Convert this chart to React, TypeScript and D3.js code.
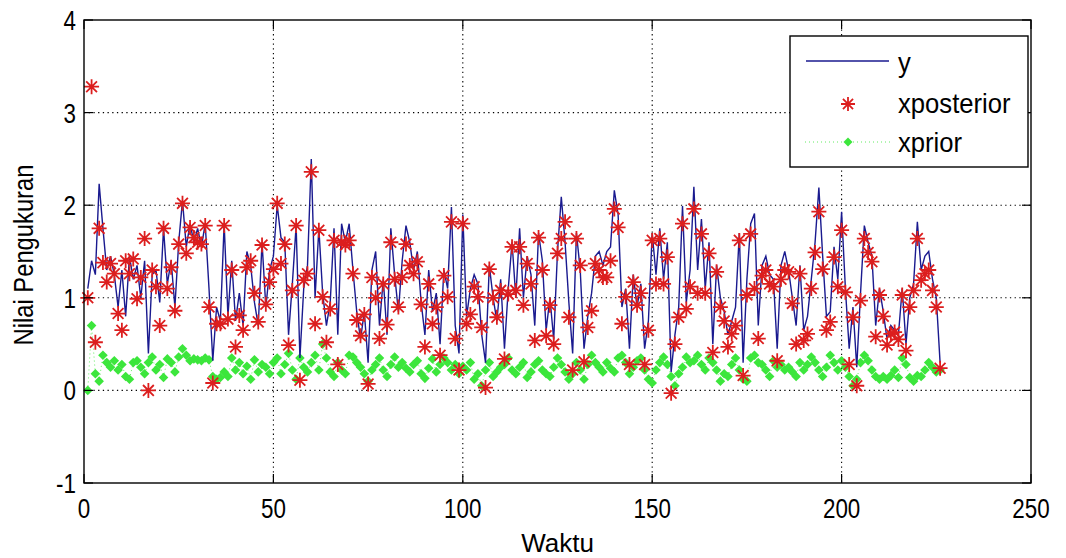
import React, { useEffect, useRef } from "react";
import * as d3 from "d3";

// Axis ticks
const xTicks = [0, 50, 100, 150, 200, 250];
const yTicks = [-1, 0, 1, 2, 3, 4];

// Measurement y (t = 1..226)
const yMeas = [
  1.1, 1.4, 1.25, 2.23, 1.75, 1.3, 1.45, 1.25, 0.9, 1.3,
  0.8, 1.45, 1.2, 1.35, 1.0, 1.4, 0.4, 1.25, 1.3, 0.95,
  1.75, 1.15, 1.4, 0.9, 1.6, 2.05, 1.55, 1.8, 1.6, 1.75,
  1.55, 1.8, 1.1, 0.32, 0.9, 0.75, 1.8, 0.8, 1.4, 0.75,
  1.05, 0.7, 1.5, 1.35, 0.95, 0.7, 1.6, 0.9, 1.3, 1.45,
  2.0, 1.65, 1.6, 0.6, 1.15, 1.78, 0.35, 1.1, 1.35, 2.5,
  1.0, 1.75, 1.05, 0.7, 0.95, 1.75, 0.6, 1.8, 1.6, 1.8,
  1.3, 0.85, 0.55, 0.85, 0.3, 1.3, 1.5, 0.7, 1.2, 0.6,
  1.75, 1.25, 0.85, 1.4, 1.78, 1.6, 1.3, 1.5, 0.95, 0.6,
  1.3, 0.85, 1.05, 0.5, 1.3, 1.1, 1.98, 0.7, 0.4, 1.9,
  0.8, 1.1, 1.25, 1.15, 0.6, 0.3, 1.35, 1.0, 0.75, 1.2,
  0.45, 1.1, 1.6, 1.0, 1.75, 1.0, 1.45, 1.25, 0.7, 1.7,
  1.4, 0.65, 1.0, 0.55, 1.5, 2.09, 1.6, 0.95, 0.4, 1.7,
  1.3, 0.45, 0.8, 1.05, 1.45, 1.5, 1.35, 1.5, 1.55, 2.16,
  1.9, 0.9, 1.1, 0.45, 1.25, 0.9, 1.15, 0.45, 0.75, 1.7,
  1.25, 1.75, 1.2, 1.6, 0.2, 0.6, 0.9, 1.99, 0.95, 1.3,
  2.2, 1.3, 1.85, 1.1, 1.6, 0.5, 1.35, 1.0, 0.85, 0.6,
  0.75, 0.9, 1.7, 0.3, 1.2, 1.8, 1.91, 0.7, 1.35, 1.45,
  1.25, 1.2, 0.45, 1.35, 1.5, 1.3, 1.0, 0.7, 1.35, 0.65,
  0.8, 1.2, 1.6, 2.19, 1.45, 0.8, 0.85, 1.55, 1.2, 1.93,
  1.1, 0.45, 0.9, 0.25, 1.05, 1.78, 1.6, 1.45, 0.7, 1.1,
  0.85, 0.55, 0.7, 0.65, 0.6, 1.1, 0.5, 1.0, 1.15, 1.82,
  1.3, 1.45, 1.5, 1.2, 1.0, 0.3,
];

// Posterior estimate (t = 1..226)
const xPosterior = [
  1.0, 3.28, 0.52, 1.75, 1.38, 1.17, 1.37, 1.26, 0.83, 0.65,
  1.4, 1.26, 1.42, 0.99, 1.22, 1.64, 0.0, 1.3, 1.12, 0.7,
  1.75, 1.1, 1.33, 0.86, 1.58, 2.02, 1.48, 1.76, 1.65, 1.6,
  1.58, 1.78, 0.9, 0.08, 0.72, 0.72, 1.78, 0.77, 1.3, 0.47,
  0.81, 0.65, 1.33, 1.4, 1.05, 0.74, 1.57, 0.93, 1.17, 1.31,
  2.02, 1.37, 1.58, 0.49, 1.08, 1.78, 0.11, 1.19, 1.26, 2.36,
  0.72, 1.73, 1.01, 0.52, 0.88, 1.62, 0.28, 1.6, 1.57, 1.62,
  1.26, 0.76, 0.59, 0.82, 0.07, 1.22, 1.0, 0.56, 1.15, 0.71,
  1.6, 1.2, 0.9, 1.22, 1.58, 1.35, 1.26, 1.39, 0.93, 0.47,
  1.15, 0.72, 0.9, 0.38, 1.24, 1.01, 1.82, 0.56, 0.22, 1.8,
  0.72, 0.82, 1.12, 1.01, 0.68, 0.03, 1.31, 1.0, 0.79, 1.08,
  0.34, 1.04, 1.55, 1.08, 1.55, 0.92, 1.37, 1.15, 0.54, 1.65,
  1.3, 0.59, 0.92, 0.5, 1.48, 1.64, 1.82, 0.79, 0.22, 1.64,
  1.35, 0.31, 0.68, 0.86, 1.37, 1.3, 1.22, 1.22, 1.4, 1.96,
  1.76, 0.72, 1.01, 0.28, 1.17, 0.92, 1.05, 0.28, 0.65, 1.62,
  1.15, 1.64, 1.15, 1.44, -0.03, 0.5, 0.79, 1.8, 0.88, 1.12,
  1.96, 1.05, 1.69, 1.05, 1.48, 0.41, 1.28, 0.9, 0.75, 0.47,
  0.61, 0.7, 1.62, 0.16, 1.03, 1.69, 1.1, 0.56, 1.24, 1.3,
  1.15, 1.12, 0.32, 1.2, 1.3, 1.28, 0.94, 0.5, 1.26, 0.54,
  0.61, 1.1, 1.49, 1.93, 1.31, 0.65, 0.74, 1.44, 1.12, 1.73,
  1.06, 0.28, 0.79, 0.05, 0.97, 1.64, 1.49, 1.39, 0.58, 1.03,
  0.8, 0.49, 0.61, 0.63, 0.55, 1.03, 0.43, 0.9, 1.08, 1.64,
  1.19, 1.26, 1.3, 1.08, 0.9, 0.24,
];

// Prior estimate (t = 1..226)
const xPrior = [
  0.0, 0.7, 0.18, 0.1, 0.38, 0.3, 0.25, 0.32, 0.22, 0.28,
  0.15, 0.12, 0.3, 0.32, 0.25, 0.18, 0.3, 0.36, 0.22, 0.28,
  0.14, 0.34, 0.3, 0.2, 0.36, 0.45, 0.38, 0.32, 0.34, 0.33,
  0.32, 0.35, 0.33, 0.15, 0.12, 0.14, 0.2, 0.15, 0.35, 0.22,
  0.3, 0.18, 0.26, 0.12, 0.33, 0.2, 0.28, 0.25, 0.18, 0.3,
  0.35, 0.18, 0.28, 0.4, 0.22, 0.12, 0.35, 0.25, 0.2, 0.3,
  0.38, 0.22, 0.5, 0.35, 0.2, 0.15, 0.3, 0.22, 0.18, 0.38,
  0.36, 0.3, 0.25, 0.18, 0.1, 0.22, 0.28, 0.35, 0.22, 0.15,
  0.28, 0.36, 0.25, 0.3, 0.24, 0.2, 0.28, 0.32, 0.18, 0.13,
  0.24, 0.34, 0.2, 0.28, 0.35, 0.3, 0.22, 0.28, 0.18, 0.26,
  0.22, 0.3, 0.12, 0.18, 0.05, 0.22, 0.3, 0.15, 0.2, 0.25,
  0.28, 0.35, 0.22, 0.18, 0.25, 0.3, 0.14, 0.2, 0.28, 0.32,
  0.22, 0.18, 0.15, 0.25, 0.35, 0.28, 0.2, 0.12, 0.18, 0.3,
  0.22, 0.12, 0.28, 0.38, 0.3, 0.25, 0.2, 0.3, 0.24, 0.2,
  0.35, 0.38, 0.3, 0.18, 0.25, 0.32, 0.35, 0.22, 0.12, 0.08,
  0.22, 0.3, 0.36, 0.28, 0.15, 0.05, 0.18, 0.25, 0.36, 0.3,
  0.32, 0.38, 0.28, 0.22, 0.35, 0.3, 0.22, 0.1, 0.18, 0.15,
  0.28, 0.35, 0.22, 0.12, 0.1, 0.35, 0.38, 0.3, 0.28, 0.22,
  0.15, 0.32, 0.25, 0.28, 0.22, 0.25, 0.2, 0.15, 0.3, 0.22,
  0.28, 0.36, 0.3, 0.22, 0.15, 0.25, 0.38, 0.3, 0.22, 0.32,
  0.25, 0.15, 0.05, 0.12, 0.3, 0.38, 0.32, 0.22, 0.15, 0.12,
  0.15, 0.12, 0.16, 0.22, 0.14, 0.35, 0.28, 0.14, 0.1, 0.16,
  0.15, 0.22, 0.3, 0.25, 0.2, 0.22,
];

const BLUE = "#1a1a8f";
const RED = "#dc1e1e";
const GREEN = "#3ce63c";
const FONT = "'Liberation Sans', Arial, sans-serif";

// MATLAB-style asterisk: plus and cross overlaid
function starPath(cx: number, cy: number, r: number) {
  const d = r * 0.72;
  return `M${cx - r},${cy}L${cx + r},${cy}M${cx},${cy - r}L${cx},${cy + r}` +
    `M${cx - d},${cy - d}L${cx + d},${cy + d}M${cx - d},${cy + d}L${cx + d},${cy - d}`;
}
function diamondPath(cx: number, cy: number, r: number) {
  return `M${cx},${cy - r}L${cx + r},${cy}L${cx},${cy + r}L${cx - r},${cy}Z`;
}

export default function App() {
  const ref = useRef<SVGSVGElement>(null);

  useEffect(() => {
    const svg = d3.select(ref.current);
    svg.selectAll("*").remove();

    const x = d3.scaleLinear().domain([0, 250]).range([84, 1031]);
    const y = d3.scaleLinear().domain([-1, 4]).range([483, 20]);
    const [x0, x1] = x.range();
    const [y0, y1] = y.range();

    svg.append("rect").attr("width", 1066).attr("height", 558).attr("fill", "#fff");

    // grid
    const grid = svg.append("g").attr("stroke", "#000").attr("stroke-width", 1.1)
      .attr("stroke-dasharray", "1.3,3.4");
    xTicks.slice(1, -1).forEach((v) => {
      grid.append("line").attr("x1", x(v)).attr("x2", x(v)).attr("y1", y1).attr("y2", y0);
    });
    yTicks.slice(1, -1).forEach((v) => {
      grid.append("line").attr("x1", x0).attr("x2", x1).attr("y1", y(v)).attr("y2", y(v));
    });

    // series
    const pts = yMeas.map((v, i) => [i + 1, v] as [number, number]);
    const line = d3.line<[number, number]>().x((d) => x(d[0])).y((d) => y(d[1]));

    const prior = xPrior.map((v, i) => [i + 1, v] as [number, number]);
    svg.append("path").attr("d", line(prior)).attr("fill", "none")
      .attr("stroke", GREEN).attr("stroke-width", 0.8).attr("stroke-dasharray", "1,3");
    svg.append("g").selectAll("path").data(prior).join("path")
      .attr("d", (d) => diamondPath(x(d[0]), y(d[1]), 4.8)).attr("fill", GREEN);

    svg.append("path").attr("d", line(pts)).attr("fill", "none")
      .attr("stroke", BLUE).attr("stroke-width", 1.4);

    const post = xPosterior.map((v, i) => [i + 1, v] as [number, number]);
    svg.append("g").selectAll("path").data(post).join("path")
      .attr("d", (d) => starPath(x(d[0]), y(d[1]), 7.5)).attr("fill", "none")
      .attr("stroke", RED).attr("stroke-width", 1.8);

    // box and ticks
    svg.append("rect").attr("x", x0).attr("y", y1).attr("width", x1 - x0).attr("height", y0 - y1)
      .attr("fill", "none").attr("stroke", "#000").attr("stroke-width", 1.4);
    const tk = svg.append("g").attr("stroke", "#000").attr("stroke-width", 1.2);
    xTicks.forEach((v) => {
      tk.append("line").attr("x1", x(v)).attr("x2", x(v)).attr("y1", y0).attr("y2", y0 - 9);
      tk.append("line").attr("x1", x(v)).attr("x2", x(v)).attr("y1", y1).attr("y2", y1 + 9);
    });
    yTicks.forEach((v) => {
      tk.append("line").attr("x1", x0).attr("x2", x0 + 9).attr("y1", y(v)).attr("y2", y(v));
      tk.append("line").attr("x1", x1).attr("x2", x1 - 9).attr("y1", y(v)).attr("y2", y(v));
    });

    // tick labels (narrow digits)
    const lab = svg.append("g").attr("font-family", FONT).attr("font-size", 28).attr("fill", "#000");
    xTicks.forEach((v) => {
      lab.append("text").attr("transform", `translate(${x(v)},${y0 + 35}) scale(0.8,1)`)
        .attr("text-anchor", "middle").text(v);
    });
    yTicks.forEach((v) => {
      lab.append("text").attr("transform", `translate(${x0 - 8},${y(v) + 10}) scale(0.8,1)`)
        .attr("text-anchor", "end").text(v);
    });
    const ttl = svg.append("g").attr("font-family", FONT).attr("fill", "#000");
    ttl.append("text").attr("x", (x0 + x1) / 2).attr("y", 552).attr("font-size", 26)
      .attr("text-anchor", "middle").text("Waktu");
    ttl.append("text").attr("transform", `translate(33,255) rotate(-90) scale(0.88,1)`)
      .attr("font-size", 27).attr("text-anchor", "middle").text("Nilai Pengukuran");

    // legend
    const lg = svg.append("g");
    lg.append("rect").attr("x", 790).attr("y", 36).attr("width", 238).attr("height", 131)
      .attr("fill", "#fff").attr("stroke", "#000").attr("stroke-width", 1.4);
    lg.append("line").attr("x1", 806).attr("x2", 889).attr("y1", 61).attr("y2", 61)
      .attr("stroke", BLUE).attr("stroke-width", 1.4);
    lg.append("path").attr("d", starPath(848, 104, 7)).attr("fill", "none")
      .attr("stroke", RED).attr("stroke-width", 1.8);
    lg.append("line").attr("x1", 805).attr("x2", 890).attr("y1", 142).attr("y2", 142)
      .attr("stroke", GREEN).attr("stroke-width", 0.8).attr("stroke-dasharray", "1,3");
    lg.append("path").attr("d", diamondPath(848, 142, 4.5)).attr("fill", GREEN);
    const lt = lg.append("g").attr("font-family", FONT).attr("font-size", 27).attr("fill", "#000");
    lt.append("text").attr("transform", "translate(898,72) scale(0.95,1)").text("y");
    lt.append("text").attr("transform", "translate(898,113) scale(0.95,1)").text("xposterior");
    lt.append("text").attr("transform", "translate(898,152) scale(0.95,1)").text("xprior");
  }, []);

  return (
    <svg ref={ref} width={1066} height={558}
      style={{ position: "absolute", left: 0, top: 0, display: "block" }} />
  );
}
